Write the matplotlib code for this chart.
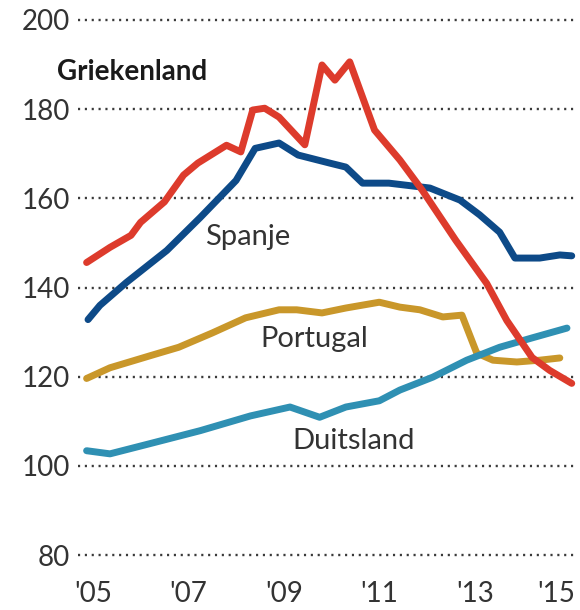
import matplotlib
matplotlib.use('Agg')
import matplotlib.pyplot as plt
import matplotlib.transforms as mtransforms

plt.rcParams['font.family'] = ['Lato', 'DejaVu Sans']

# ── data ──
greece_x = [2004.87, 2005.36, 2005.8, 2006.0, 2006.5, 2006.9, 2007.2, 2007.8, 2008.1,
            2008.35, 2008.6, 2008.9, 2009.44, 2009.8, 2010.07, 2010.38, 2010.9,
            2011.43, 2011.9, 2012.6, 2013.25, 2013.67, 2014.2, 2014.57, 2015.03]
greece_y = [145.6, 149.0, 151.7, 154.6, 159.2, 165.2, 167.9, 171.9, 170.4,
            179.8, 180.2, 178.2, 172.0, 189.9, 186.5, 190.6, 175.3,
            168.6, 161.8, 150.6, 140.9, 132.6, 124.3, 121.4, 118.5]

spain_x = [2004.9, 2005.15, 2005.7, 2006.55, 2007.25, 2008.0, 2008.4, 2008.9, 2009.3,
           2009.96, 2010.3, 2010.65, 2011.2, 2012.06, 2012.69, 2013.1, 2013.52,
           2013.84, 2014.36, 2014.78, 2015.03]
spain_y = [132.8, 136.0, 141.1, 148.3, 155.7, 164.0, 171.2, 172.4, 169.7,
           167.9, 167.0, 163.4, 163.4, 162.3, 159.6, 156.3, 152.4,
           146.6, 146.6, 147.3, 147.1]

portugal_x = [2004.87, 2005.36, 2006.2, 2006.8, 2007.5, 2008.2, 2008.9, 2009.27, 2009.8,
              2010.3, 2011.0, 2011.43, 2011.85, 2012.33, 2012.73, 2013.04, 2013.38,
              2013.88, 2014.36, 2014.78]
portugal_y = [119.6, 122.0, 124.7, 126.6, 129.8, 133.2, 135.0, 135.0, 134.3,
              135.4, 136.7, 135.6, 135.0, 133.4, 133.8, 125.3, 123.7,
              123.3, 123.7, 124.2]

germany_x = [2004.87, 2005.36, 2006.2, 2007.25, 2008.3, 2009.13, 2009.75, 2010.3,
             2011.0, 2011.43, 2012.12, 2012.83, 2013.52, 2014.2, 2014.93]
germany_y = [103.4, 102.7, 105.0, 107.9, 111.2, 113.2, 110.9, 113.2,
             114.6, 117.0, 119.9, 123.7, 126.6, 128.7, 130.9]

years = [2005, 2007, 2009, 2011, 2013, 2015]
year_labels = ["'05", "'07", "'09", "'11", "'13", "'15"]
y_ticks = [80, 100, 120, 140, 160, 180, 200]

# ── colours ──
RED = '#dd3b2c'
NAVY = '#0d4a88'
GOLD = '#c9972a'
TEAL = '#2f90b3'
TXT = '#333333'

fig = plt.figure(figsize=(5.8, 6.1), dpi=100)
fig.patch.set_facecolor('white')
ax = fig.add_axes([78 / 580, 1 - 564 / 610, 499 / 580, 553 / 610])
ax.set_xlim(2004.69, 2015.14)
ax.set_ylim(78, 202)

# stippellijnen
for v in y_ticks:
    ax.axhline(v, color='#3a3a3a', lw=1.7, ls=(0, (0.9, 2.0)), zorder=1)

lw = 5
ax.plot(portugal_x, portugal_y, color=GOLD, lw=lw, solid_capstyle='round',
        solid_joinstyle='round', zorder=2)
ax.plot(germany_x, germany_y, color=TEAL, lw=lw, solid_capstyle='round',
        solid_joinstyle='round', zorder=3)
ax.plot(spain_x, spain_y, color=NAVY, lw=lw, solid_capstyle='round',
        solid_joinstyle='round', zorder=4)
ax.plot(greece_x, greece_y, color=RED, lw=lw, solid_capstyle='round',
        solid_joinstyle='round', zorder=5)

# ── series labels ──
ax.text(2004.25, 188.3, 'Griekenland', fontsize=20, fontweight='bold',
        color='#1a1a1a', ha='left', va='center', clip_on=False)
ax.text(2007.35, 151.3, 'Spanje', fontsize=21, color=TXT, ha='left', va='center')
ax.text(2008.5, 128.5, 'Portugal', fontsize=21, color=TXT, ha='left', va='center')
ax.text(2009.17, 105.6, 'Duitsland', fontsize=21, color=TXT, ha='left', va='center')

# ── axes ──
for s in ax.spines.values():
    s.set_visible(False)
ax.set_yticks(y_ticks)
ax.set_yticklabels([str(v) for v in y_ticks])
ax.set_xticks(years)
ax.set_xticklabels(year_labels)
ax.tick_params(axis='both', length=0, labelsize=20, labelcolor=TXT)
ax.tick_params(axis='y', pad=6)
ax.tick_params(axis='x', pad=12)
# laatste label naar links schuiven zodat het binnen beeld valt
last = ax.get_xticklabels()[-1]
last.set_transform(last.get_transform() +
                   mtransforms.ScaledTranslation(-14 / 100, 0, fig.dpi_scale_trans))

fig.savefig('out.png', dpi=100, facecolor='white')
